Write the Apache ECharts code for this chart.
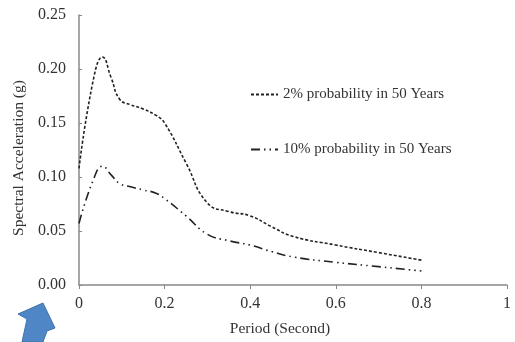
<!DOCTYPE html>
<html>
<head>
<meta charset="utf-8">
<script src="https://cdn.jsdelivr.net/npm/echarts@6/dist/echarts.min.js"></script>
<style>
  html, body { margin: 0; padding: 0; background: #fff; }
  #chart { width: 515px; height: 342px; }
</style>
</head>
<body>
<div id="chart"></div>
<script>
// periods (s) and spectral accelerations (g)
const periods = [0, 0.035, 0.055, 0.075, 0.095, 0.12, 0.15, 0.18, 0.2, 0.25, 0.3, 0.35, 0.4, 0.45, 0.5, 0.6, 0.7, 0.8]
const prob2 = [0.108, 0.193, 0.211, 0.192, 0.172, 0.167, 0.163, 0.157, 0.150, 0.113, 0.076, 0.068, 0.064, 0.054, 0.045, 0.037, 0.030, 0.023]
const prob10 = [0.057, 0.099, 0.110, 0.102, 0.094, 0.091, 0.088, 0.085, 0.080, 0.064, 0.047, 0.041, 0.037, 0.031, 0.026, 0.021, 0.017, 0.013]
const seriesNames = ['2% probability in 50 Years', '10% probability in 50 Years']

const font = 'Liberation Serif'
const textColor = '#333'
const axisColor = '#888'

const chart = echarts.init(document.getElementById('chart'))

const toPairs = (vals) => periods.map((p, i) => [p, vals[i]])

const option = {
  backgroundColor: '#fff',
  animation: false,
  grid: { left: 79, right: 8, top: 15, bottom: 56, containLabel: false },
  legend: {
    orient: 'vertical',
    left: 250,
    top: 87,
    padding: 0,
    itemWidth: 27,
    itemHeight: 16,
    itemGap: 40,
    data: seriesNames,
    itemStyle: { opacity: 0 },
    textStyle: { fontFamily: font, fontSize: 15, color: textColor },
  },
  xAxis: {
    type: 'value',
    min: 0,
    max: 1,
    interval: 0.2,
    name: 'Period (Second)',
    nameLocation: 'middle',
    nameGap: 36,
    nameTextStyle: { fontFamily: font, fontSize: 15.5, color: textColor, padding: [0, 26, 0, 0] },
    axisLine: { lineStyle: { color: axisColor, width: 1.5 } },
    axisTick: { show: true, length: 4, lineStyle: { color: axisColor } },
    axisLabel: {
      margin: 11,
      fontFamily: font,
      fontSize: 16,
      color: textColor,
      formatter: (v) => String(+v.toFixed(1)),
    },
    splitLine: { show: false },
  },
  yAxis: {
    type: 'value',
    min: 0,
    max: 0.25,
    interval: 0.05,
    name: 'Spectral Acceleration (g)',
    nameLocation: 'middle',
    nameGap: 52,
    nameTextStyle: { fontFamily: font, fontSize: 15.5, color: textColor, padding: [0, 16, 0, 0] },
    axisLine: { show: true, lineStyle: { color: axisColor, width: 1.5 } },
    axisTick: { show: true, inside: true, length: 3, lineStyle: { color: axisColor } },
    axisLabel: {
      margin: 13,
      fontFamily: font,
      fontSize: 16,
      color: textColor,
      formatter: (v) => v.toFixed(2),
    },
    splitLine: { show: false },
  },
  series: [
    {
      name: seriesNames[0],
      type: 'line',
      data: toPairs(prob2),
      smooth: 0.5,
      symbol: 'none',
      lineStyle: { color: '#222', width: 1.6, type: [3, 2] },
      itemStyle: { color: '#222' },
    },
    {
      name: seriesNames[1],
      type: 'line',
      data: toPairs(prob10),
      smooth: 0.5,
      symbol: 'none',
      lineStyle: { color: '#222', width: 1.6, type: [9, 4, 1.5, 4, 1.5, 4] },
      itemStyle: { color: '#222' },
    },
  ],
  graphic: [
    {
      type: 'polygon',
      shape: {
        points: [[43, 303], [55, 328], [47, 331], [43, 342], [22, 342], [27, 319], [18, 314]],
      },
      style: { fill: '#4f86c6', stroke: '#3f72ad', lineWidth: 1 },
    },
  ],
}

chart.setOption(option)
</script>
</body>
</html>
